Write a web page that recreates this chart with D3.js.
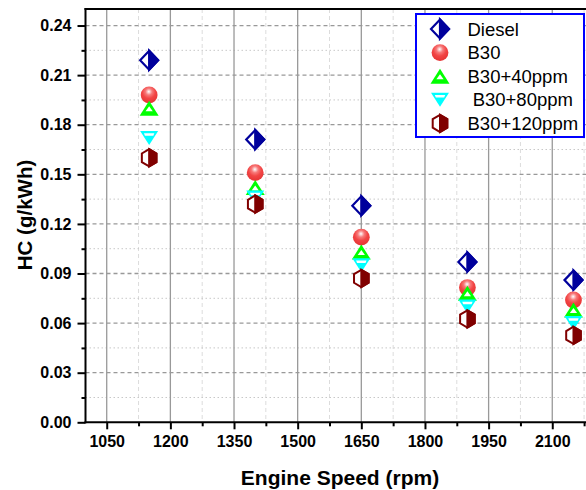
<!DOCTYPE html>
<html>
<head>
<meta charset="utf-8">
<script src="https://cdn.jsdelivr.net/npm/d3@7/dist/d3.min.js"></script>
<style>
  html, body { margin: 0; padding: 0; background: #fff; }
  svg { display: block; font-family: Arial, "Liberation Sans", sans-serif; }
</style>
</head>
<body>
<svg id="chart" width="586" height="490"></svg>
<script>
// Engine speed (rpm) at which each fuel was tested
const speeds = [1150, 1400, 1650, 1900, 2150];

// HC emissions (g/kWh) per fuel
const diesel  = [0.219, 0.171, 0.131, 0.097, 0.086];
const b30     = [0.198, 0.151, 0.112, 0.0815, 0.074];
const b30p40  = [0.190, 0.142, 0.103, 0.078, 0.068];
const b30p80  = [0.172, 0.136, 0.095, 0.070, 0.060];
const b30p120 = [0.160, 0.132, 0.087, 0.0625, 0.0526];

const seriesNames = ["Diesel", "B30", "B30+40ppm", " B30+80ppm", "B30+120ppm"];

// Axis ticks
const xTicks = [1050, 1200, 1350, 1500, 1650, 1800, 1950, 2100];
const xMinorTicks = [1125, 1275, 1425, 1575, 1725, 1875, 2025, 2175];
const yTicks = [0, 0.03, 0.06, 0.09, 0.12, 0.15, 0.18, 0.21, 0.24];
const yMinorTicks = [0.015, 0.045, 0.075, 0.105, 0.135, 0.165, 0.195, 0.225];

const svg = d3.select("#chart");
const W = 586, H = 490;
const pLeft = 85.5, pTop = 9, pBottom = 422.3, pRight = 594.7;

const x = d3.scaleLinear().domain([1000, 2200]).range([pLeft, pRight]);
const y = d3.scaleLinear().domain([0, 0.25]).range([pBottom, pTop]);

svg.append("rect").attr("width", W).attr("height", H).attr("fill", "#fff");

// gradient for the spherical B30 marker
const defs = svg.append("defs");
const grad = defs.append("radialGradient").attr("id", "sphere")
  .attr("cx", "48%").attr("cy", "32%").attr("r", "65%")
  .attr("fx", "48%").attr("fy", "30%");
grad.append("stop").attr("offset", "0%").attr("stop-color", "#ffffff");
grad.append("stop").attr("offset", "30%").attr("stop-color", "#f77a7a");
grad.append("stop").attr("offset", "60%").attr("stop-color", "#f24545");
grad.append("stop").attr("offset", "100%").attr("stop-color", "#e63535");

// ---- grid ----
const grid = svg.append("g");
grid.selectAll(".vminor").data(xMinorTicks).join("line")
  .attr("x1", d => x(d)).attr("x2", d => x(d))
  .attr("y1", pTop).attr("y2", pBottom)
  .attr("stroke", "#dcdcdc").attr("stroke-width", 1).attr("stroke-dasharray", "4,3");
grid.selectAll(".hminor").data(yMinorTicks).join("line")
  .attr("x1", pLeft).attr("x2", W)
  .attr("y1", d => y(d)).attr("y2", d => y(d))
  .attr("stroke", "#c8c8c8").attr("stroke-width", 1).attr("stroke-dasharray", "1.5,2.5");
grid.selectAll(".vmajor").data(xTicks).join("line")
  .attr("x1", d => x(d)).attr("x2", d => x(d))
  .attr("y1", pTop).attr("y2", pBottom)
  .attr("stroke", "#999").attr("stroke-width", 1.3);
grid.selectAll(".hmajor").data(yTicks.slice(1)).join("line")
  .attr("x1", pLeft).attr("x2", W)
  .attr("y1", d => y(d)).attr("y2", d => y(d))
  .attr("stroke", "#999").attr("stroke-width", 1.3).attr("stroke-dasharray", "4,3");

// ---- axes ----
const fmtY = d3.format(".2f");
const xAxis = svg.append("g").attr("transform", `translate(0,${pBottom})`)
  .call(d3.axisBottom(x).tickValues(xTicks).tickSize(7).tickPadding(6).tickFormat(d3.format("d")));
const xMinor = svg.append("g").attr("transform", `translate(0,${pBottom})`)
  .call(d3.axisBottom(x).tickValues(xMinorTicks).tickSize(4).tickFormat(""));
const yAxis = svg.append("g").attr("transform", `translate(${pLeft},0)`)
  .call(d3.axisLeft(y).tickValues(yTicks).tickSize(8).tickPadding(6).tickFormat(fmtY));
const yMinor = svg.append("g").attr("transform", `translate(${pLeft},0)`)
  .call(d3.axisLeft(y).tickValues(yMinorTicks).tickSize(4).tickFormat(""));

[xAxis, xMinor, yAxis, yMinor].forEach(g => {
  g.select(".domain").remove();
  g.selectAll(".tick line").attr("stroke", "#000").attr("stroke-width", 2);
  g.selectAll(".tick text").attr("fill", "#000")
    .style("font-size", "16px").style("font-weight", "bold");
});

// frame lines
svg.append("line").attr("x1", pLeft).attr("x2", pLeft).attr("y1", pTop - 1).attr("y2", pBottom + 1)
  .attr("stroke", "#000").attr("stroke-width", 2);
svg.append("line").attr("x1", pLeft - 1).attr("x2", W).attr("y1", pBottom).attr("y2", pBottom)
  .attr("stroke", "#000").attr("stroke-width", 2);
svg.append("line").attr("x1", pLeft - 1).attr("x2", W).attr("y1", pTop).attr("y2", pTop)
  .attr("stroke", "#000").attr("stroke-width", 2);

// axis titles
svg.append("text").attr("x", 340).attr("y", 485).attr("text-anchor", "middle")
  .style("font-size", "21px").style("font-weight", "bold").text("Engine Speed (rpm)");
svg.append("text").attr("transform", "translate(32,215) rotate(-90)").attr("text-anchor", "middle")
  .style("font-size", "20.5px").style("font-weight", "bold").text("HC (g/kWh)");

// ---- marker drawers ----
const navy = "#00009c", wine = "#800000";
function diamond(g) {
  g.append("path").attr("d", "M0,-9.5L9,0L0,9.5L-9,0Z")
    .attr("fill", "#fff").attr("stroke", navy).attr("stroke-width", 2.2).attr("stroke-linejoin", "miter");
  g.append("path").attr("d", "M0,-9.5L9,0L0,9.5Z").attr("fill", navy)
    .attr("stroke", navy).attr("stroke-width", 2.2);
}
function sphere(g) {
  g.append("circle").attr("r", 8.4).attr("fill", "url(#sphere)");
}
function upTri(g) {
  g.append("path").attr("d", "M0,-7.5L9.5,7.5L-9.5,7.5Z").attr("fill", "#00ff00");
  g.append("path").attr("d", "M0,-2L3.6,3L-3.6,3Z").attr("fill", "#fff");
}
function downTri(g) {
  g.append("path").attr("d", "M-9,-7L9,-7L0,7Z").attr("fill", "#00ffff");
  g.append("path").attr("d", "M-5.2,-4.8L5.2,-4.8L4.2,-2.3L-4.2,-2.3Z").attr("fill", "#fff");
}
function hexagon(g) {
  g.append("path").attr("d", "M0,-8.6L7.3,-4.3L7.3,4.3L0,8.6L-7.3,4.3L-7.3,-4.3Z")
    .attr("fill", "#fff").attr("stroke", wine).attr("stroke-width", 2);
  g.append("path").attr("d", "M0,-8.6L7.3,-4.3L7.3,4.3L0,8.6Z")
    .attr("fill", wine).attr("stroke", wine).attr("stroke-width", 2);
}

const series = [
  { values: diesel,  draw: diamond },
  { values: b30,     draw: sphere },
  { values: b30p40,  draw: upTri },
  { values: b30p80,  draw: downTri },
  { values: b30p120, draw: hexagon }
];

// ---- points ----
const pts = svg.append("g");
series.forEach(s => {
  s.values.forEach((v, i) => {
    const g = pts.append("g").attr("transform", `translate(${x(speeds[i])},${y(v)})`);
    s.draw(g);
  });
});

// ---- legend ----
const lg = svg.append("g");
lg.append("rect").attr("x", 416).attr("y", 14).attr("width", 168).attr("height", 123)
  .attr("fill", "#fff").attr("stroke", "#0000ff").attr("stroke-width", 2);
series.forEach((s, i) => {
  const cy = 29 + i * 23.6;
  s.draw(lg.append("g").attr("transform", `translate(440,${cy})`));
  lg.append("text").attr("x", 467.5).attr("y", cy + 6.5)
    .style("font-size", "18.5px").style("white-space", "pre").attr("fill", "#000")
    .text(seriesNames[i]);
});
</script>
</body>
</html>
